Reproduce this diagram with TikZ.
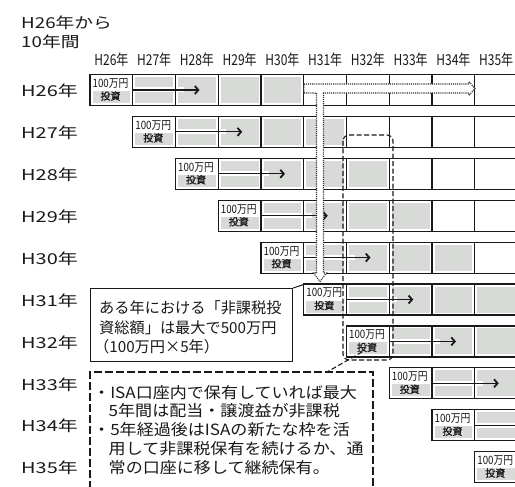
\documentclass[tikz,border=0pt]{standalone}
\usepackage{fontspec}
\setmainfont{Noto Sans CJK JP}
\newfontfamily\lblfont[FakeStretch=1.33]{Noto Sans CJK JP}
\newfontfamily\ttlfont[FakeStretch=1.25]{Noto Sans CJK JP}
\newfontfamily\hdrfont[FakeStretch=0.8]{Noto Sans CJK JP}
\newfontfamily\invfont[FakeStretch=0.85]{Noto Sans CJK JP}
\newfontfamily\invbfont[FakeBold=1]{Noto Sans CJK JP}
\newfontfamily\dfont[FakeStretch=1.1]{Noto Sans CJK JP}
\usetikzlibrary{arrows.meta}
\definecolor{cellgray}{RGB}{216,218,216}
\definecolor{ink}{RGB}{25,25,25}
\begin{document}
\begin{tikzpicture}[x=1pt,y=-1pt,
  grid/.style={draw=ink,line width=1.2pt},
  arr/.style={ink,line width=1.1pt,-{Straight Barb[length=3.5pt,width=8pt,line width=1.8pt]}},
  hollow/.style={fill=white,draw=gray!35!black,line width=1.1pt,densely dotted},
  dashbox/.style={draw=ink,line width=1.1pt,dash pattern=on 5pt off 2.5pt},
  dashboxb/.style={draw=ink,line width=1.1pt,dash pattern=on 8pt off 3pt},
  rowlbl/.style={font=\lblfont\fontsize{15}{18}\selectfont,anchor=west,inner sep=0pt,text=ink},
  ttl/.style={font=\ttlfont\fontsize{15}{18}\selectfont,anchor=west,inner sep=0pt,text=ink},
  hdr/.style={font=\hdrfont\fontsize{15}{18}\selectfont,inner sep=0pt,text=ink},
  invtxt/.style={font=\invfont\fontsize{11.5}{13}\selectfont,inner sep=0pt,text=ink},
  invtxtb/.style={font=\invbfont\fontsize{10}{12}\selectfont,inner sep=0pt,text=ink},
  boxtxt/.style={font=\fontsize{15.2}{18}\selectfont,anchor=base west,inner sep=0pt,text=ink},
  dtxt/.style={font=\dfont\fontsize{15.5}{18}\selectfont,anchor=base west,inner sep=0pt,text=ink}
]
\clip (0,0) rectangle (515,487);
\fill[white] (0,0) rectangle (515,487);
% title
\node[ttl] (title1) at (21,23) {H26年から};
\node[ttl] (title2) at (21,42) {10年間};
% column headers
\foreach \k in {0,...,9}{
  \pgfmathtruncatemacro\yr{26+\k}
  \node[hdr] (h\k) at (111.4+42.75*\k,60) {H\yr 年};
}
% rows
\foreach \i in {0,...,9}{
  \pgfmathsetmacro\rt{74.5+41.9*\i}
  \pgfmathsetmacro\rb{\rt+31}
  \pgfmathsetmacro\rc{\rt+15.5}
  \pgfmathsetmacro\cL{90+42.75*\i}
  \foreach \k in {1,...,4}{
    \pgfmathsetmacro\cl{\cL+42.75*\k}
    \fill[cellgray] (\cl+2.5,\rt+2.5) rectangle (\cl+40.25,\rb-2.5);
  }
  \fill[cellgray] (\cL+2.5,\rt+16.5) rectangle (\cL+40.25,\rb-2.5);
  \draw[white,line width=5pt] (\cL+42.75,\rc) -- (\cL+93.5,\rc);
  \draw[grid] (\cL,\rt) rectangle (540,\rb);
  \foreach \k in {1,...,9}{
    \draw[grid] (\cL+42.75*\k,\rt) -- (\cL+42.75*\k,\rb);
  }
  \draw[arr] (\cL+42.75,\rc) -- (\cL+109.5,\rc);
  \node[invtxt] (m\i) at (\cL+20.5,\rt+9) {100万円};
  \node[invtxtb] (t\i) at (\cL+20.5,\rt+21.5) {投資};
  \pgfmathtruncatemacro\yr{26+\i}
  \node[rowlbl] (r\i) at (21,\rc+1) {H\yr 年};
}
% hollow arrows
\draw[hollow] (303.75,84) -- (469,84) -- (469,81.5) -- (475,88.5) -- (469,95.5) -- (469,93)
  -- (323.5,93) -- (323.5,273) -- (326.5,273) -- (320,281.5) -- (313.5,273) -- (316.5,273)
  -- (316.5,93) -- (303.75,93) -- cycle;
% rounded dashed frame around H32 column
\draw[dashbox,rounded corners=6pt] (343,135) rectangle (393,360);
% sum box
\node[draw=ink,line width=1.1pt,fill=white,minimum width=202pt,minimum height=73pt,anchor=north west,inner sep=0pt] (sumbox) at (90,288) {};
\coordinate (h31tl) at (303.75,284.5);
\draw[ink,line width=1pt] (sumbox.north east) -- (h31tl);
\node[boxtxt] (s1) at (99,313.5) {ある年における「非課税投};
\node[boxtxt] (s2) at (99,333) {資総額」は最大で500万円};
\node[boxtxt] (s3) at (94,352.5) {（100万円×5年）};
% dashed note box
\coordinate (dbl) at (90,500);
\coordinate (dtl) at (90,372);
\coordinate (dtr) at (373,372);
\coordinate (dbr) at (373,500);
\draw[dashboxb] (dbl) -- (dtl) -- (dtr) -- (dbr);
\coordinate (cfrom) at (362,352);
\coordinate (cto) at (327,372);
\draw[dashbox] (cfrom) -- (cto);
\node[dtxt] (d1) at (93,398) {・ISA口座内で保有していれば最大};
\node[dtxt] (d2) at (93,416.75) {\hspace*{1em}5年間は配当・譲渡益が非課税};
\node[dtxt] (d3) at (93,435.5) {・5年経過後はISAの新たな枠を活};
\node[dtxt] (d4) at (93,454.25) {\hspace*{1em}用して非課税保有を続けるか、通};
\node[dtxt] (d5) at (93,473) {\hspace*{1em}常の口座に移して継続保有。};
\end{tikzpicture}
\end{document}
